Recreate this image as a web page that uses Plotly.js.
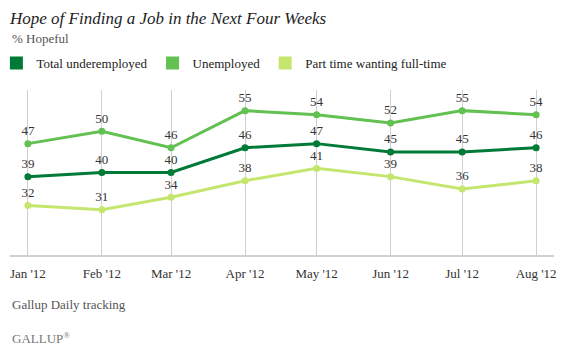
<!DOCTYPE html>
<html>
<head>
<meta charset="utf-8">
<script src="https://cdn.plot.ly/plotly-3.0.1.min.js"></script>
<style>html,body{margin:0;padding:0;background:#fff;}#chart{width:564px;height:351px;}</style>
</head>
<body>
<div id="chart"></div>
<script>
var months = ["2012-01-01","2012-02-01","2012-03-01","2012-04-01","2012-05-01","2012-06-01","2012-07-01","2012-08-01"];
var tickLabels = ["Jan '12","Feb '12","Mar '12","Apr '12","May '12","Jun '12","Jul '12","Aug '12"];
var seriesNames = ["Total underemployed","Unemployed","Part time wanting full-time"];
var totalUnderemployed = [39,40,40,46,47,45,45,46];
var unemployed = [47,50,46,55,54,52,55,54];
var partTime = [32,31,34,38,41,39,36,38];

var colors = ["#007a37","#62c151","#c5e66e"];
var font = "'Liberation Serif', 'Times New Roman', serif";
var values = [totalUnderemployed, unemployed, partTime];

var traces = [];
values.forEach(function(v, i){
  traces.push({
    x: months, y: v, type: "scatter", mode: "lines+markers+text",
    text: v.map(String), textposition: "top center",
    textfont: {family: font, size: 13, color: "#333"},
    line: {color: colors[i], width: 3},
    marker: {color: colors[i], size: 7},
    showlegend: false, hoverinfo: "skip", cliponaxis: false
  });
});
values.forEach(function(v, i){
  traces.push({
    x: [null], y: [null], type: "scatter", mode: "markers",
    name: seriesNames[i],
    marker: {color: colors[i], symbol: "square", size: 13},
    showlegend: true
  });
});

var layout = {
  width: 564, height: 351,
  margin: {l: 10, r: 10, t: 90, b: 96, autoexpand: false},
  paper_bgcolor: "#fff", plot_bgcolor: "#fff",
  font: {family: font, color: "#333", size: 13},
  title: {text: "<i>Hope of Finding a Job in the Next Four Weeks</i>", xref: "paper", x: 0, xanchor: "left",
          yref: "container", y: 0.948, yanchor: "middle", font: {family: font, size: 17, color: "#222"}},
  xaxis: {
    type: "date", range: ["2011-12-24 12:00", "2012-08-08 12:00"],
    tickvals: months, ticktext: tickLabels, showgrid: true, gridcolor: "#d0d0d0", gridwidth: 1,
    showline: true, linecolor: "#d0d0d0", linewidth: 2, ticks: "", ticklabelstandoff: 5, zeroline: false, automargin: false,
    tickfont: {family: font, size: 13, color: "#333"}, fixedrange: true
  },
  yaxis: {range: [20, 60], showgrid: false, zeroline: false, showticklabels: false, showline: false, fixedrange: true, automargin: false},
  legend: {orientation: "h", x: -0.025, xanchor: "left", y: 1.164, yanchor: "middle",
           font: {family: font, size: 13, color: "#222"}, bgcolor: "rgba(0,0,0,0)"},
  annotations: [
    {text: "% Hopeful", xref: "paper", yref: "paper", x: 0, y: 1.315, xanchor: "left", yanchor: "middle",
     showarrow: false, font: {family: font, size: 13, color: "#555"}},
    {text: "Gallup Daily tracking", xref: "paper", yref: "paper", x: 0, y: -0.303, xanchor: "left", yanchor: "middle",
     showarrow: false, font: {family: font, size: 13, color: "#555"}},
    {text: "GALLUP<sup>&#174;</sup>", xref: "paper", yref: "paper", x: 0, y: -0.503, xanchor: "left", yanchor: "middle",
     showarrow: false, font: {family: font, size: 13, color: "#777"}}
  ],
  showlegend: true
};

Plotly.newPlot("chart", traces, layout, {displayModeBar: false, staticPlot: true});
</script>
</body>
</html>
